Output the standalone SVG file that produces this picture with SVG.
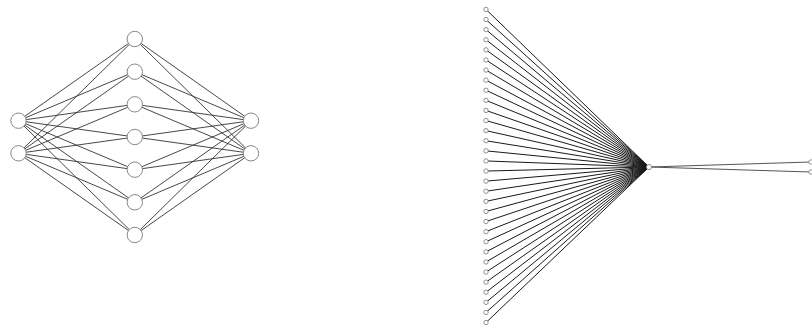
<svg xmlns="http://www.w3.org/2000/svg" width="812" height="331" viewBox="0 0 812 331">
<style>
.e{stroke:#333;stroke-width:0.9;fill:none}
.r{stroke:#1a1a1a;stroke-width:1;fill:none}
.n{fill:#fff;stroke:#888;stroke-width:1}
.s{fill:#fff;stroke:#777;stroke-width:0.8}
</style>
<rect width="812" height="331" fill="#fff"/>
<g id="connectors-left" class="e">
<path d="M18.5 120.7L134.8 39M18.5 120.7L134.8 71.7M18.5 120.7L134.8 104.3M18.5 120.7L134.8 137M18.5 120.7L134.8 169.7M18.5 120.7L134.8 202.3M18.5 120.7L134.8 235"/>
<path d="M18.5 153.3L134.8 39M18.5 153.3L134.8 71.7M18.5 153.3L134.8 104.3M18.5 153.3L134.8 137M18.5 153.3L134.8 169.7M18.5 153.3L134.8 202.3M18.5 153.3L134.8 235"/>
<path d="M251 120.7L134.8 39M251 120.7L134.8 71.7M251 120.7L134.8 104.3M251 120.7L134.8 137M251 120.7L134.8 169.7M251 120.7L134.8 202.3M251 120.7L134.8 235"/>
<path d="M251 153.3L134.8 39M251 153.3L134.8 71.7M251 153.3L134.8 104.3M251 153.3L134.8 137M251 153.3L134.8 169.7M251 153.3L134.8 202.3M251 153.3L134.8 235"/>
</g>
<g id="connectors-right" class="r">
<path d="M486 9.45L649 167M486 19.55L649 167M486 29.65L649 167M486 39.75L649 167M486 49.85L649 167M486 59.95L649 167M486 70.05L649 167M486 80.15L649 167M486 90.25L649 167M486 100.35L649 167M486 110.45L649 167M486 120.55L649 167M486 130.65L649 167M486 140.75L649 167M486 150.85L649 167M486 160.95L649 167M486 171.05L649 167M486 181.15L649 167M486 191.25L649 167M486 201.35L649 167M486 211.45L649 167M486 221.55L649 167M486 231.65L649 167M486 241.75L649 167M486 251.85L649 167M486 261.95L649 167M486 272.05L649 167M486 282.15L649 167M486 292.25L649 167M486 302.35L649 167M486 312.45L649 167M486 322.55L649 167"/>
<path d="M649 167L811 162M649 167L811 172" stroke="#555"/>
</g>
<g id="in1"><circle class="n" cx="18.5" cy="120.7" r="7.7"/></g>
<g id="in2"><circle class="n" cx="18.5" cy="153.3" r="7.7"/></g>
<g id="h1"><circle class="n" cx="134.8" cy="39" r="7.7"/></g>
<g id="h2"><circle class="n" cx="134.8" cy="71.7" r="7.7"/></g>
<g id="h3"><circle class="n" cx="134.8" cy="104.3" r="7.7"/></g>
<g id="h4"><circle class="n" cx="134.8" cy="137" r="7.7"/></g>
<g id="h5"><circle class="n" cx="134.8" cy="169.7" r="7.7"/></g>
<g id="h6"><circle class="n" cx="134.8" cy="202.3" r="7.7"/></g>
<g id="h7"><circle class="n" cx="134.8" cy="235" r="7.7"/></g>
<g id="out1"><circle class="n" cx="251" cy="120.7" r="7.7"/></g>
<g id="out2"><circle class="n" cx="251" cy="153.3" r="7.7"/></g>
<g id="r-in0"><circle class="s" cx="486" cy="9.45" r="2.2"/></g>
<g id="r-in1"><circle class="s" cx="486" cy="19.55" r="2.2"/></g>
<g id="r-in2"><circle class="s" cx="486" cy="29.65" r="2.2"/></g>
<g id="r-in3"><circle class="s" cx="486" cy="39.75" r="2.2"/></g>
<g id="r-in4"><circle class="s" cx="486" cy="49.85" r="2.2"/></g>
<g id="r-in5"><circle class="s" cx="486" cy="59.95" r="2.2"/></g>
<g id="r-in6"><circle class="s" cx="486" cy="70.05" r="2.2"/></g>
<g id="r-in7"><circle class="s" cx="486" cy="80.15" r="2.2"/></g>
<g id="r-in8"><circle class="s" cx="486" cy="90.25" r="2.2"/></g>
<g id="r-in9"><circle class="s" cx="486" cy="100.35" r="2.2"/></g>
<g id="r-in10"><circle class="s" cx="486" cy="110.45" r="2.2"/></g>
<g id="r-in11"><circle class="s" cx="486" cy="120.55" r="2.2"/></g>
<g id="r-in12"><circle class="s" cx="486" cy="130.65" r="2.2"/></g>
<g id="r-in13"><circle class="s" cx="486" cy="140.75" r="2.2"/></g>
<g id="r-in14"><circle class="s" cx="486" cy="150.85" r="2.2"/></g>
<g id="r-in15"><circle class="s" cx="486" cy="160.95" r="2.2"/></g>
<g id="r-in16"><circle class="s" cx="486" cy="171.05" r="2.2"/></g>
<g id="r-in17"><circle class="s" cx="486" cy="181.15" r="2.2"/></g>
<g id="r-in18"><circle class="s" cx="486" cy="191.25" r="2.2"/></g>
<g id="r-in19"><circle class="s" cx="486" cy="201.35" r="2.2"/></g>
<g id="r-in20"><circle class="s" cx="486" cy="211.45" r="2.2"/></g>
<g id="r-in21"><circle class="s" cx="486" cy="221.55" r="2.2"/></g>
<g id="r-in22"><circle class="s" cx="486" cy="231.65" r="2.2"/></g>
<g id="r-in23"><circle class="s" cx="486" cy="241.75" r="2.2"/></g>
<g id="r-in24"><circle class="s" cx="486" cy="251.85" r="2.2"/></g>
<g id="r-in25"><circle class="s" cx="486" cy="261.95" r="2.2"/></g>
<g id="r-in26"><circle class="s" cx="486" cy="272.05" r="2.2"/></g>
<g id="r-in27"><circle class="s" cx="486" cy="282.15" r="2.2"/></g>
<g id="r-in28"><circle class="s" cx="486" cy="292.25" r="2.2"/></g>
<g id="r-in29"><circle class="s" cx="486" cy="302.35" r="2.2"/></g>
<g id="r-in30"><circle class="s" cx="486" cy="312.45" r="2.2"/></g>
<g id="r-in31"><circle class="s" cx="486" cy="322.55" r="2.2"/></g>
<g id="r-mid"><circle class="s" cx="649" cy="167" r="2.6"/></g>
<g id="r-out1"><circle class="s" cx="811" cy="162" r="2.2"/></g>
<g id="r-out2"><circle class="s" cx="811" cy="172" r="2.2"/></g>
</svg>
